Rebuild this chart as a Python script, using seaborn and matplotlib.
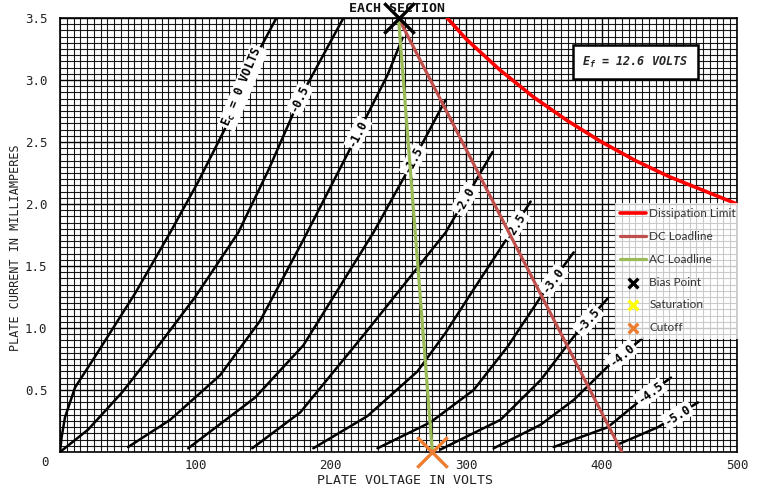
import numpy as np
import matplotlib
matplotlib.use('Agg')
import matplotlib.pyplot as plt
import seaborn as sns
from matplotlib.ticker import MultipleLocator

# plate characteristic curves (plate volts, plate mA)
ec_0_v = [0, 1.2, 3.7, 11.1, 25.9, 55.5, 81.4, 102.1, 124.3, 144.2, 159.8]
ec_0_ma = [0, 0.12, 0.28, 0.52, 0.77, 1.28, 1.77, 2.18, 2.66, 3.18, 3.5]
ec_05_v = [0, 20.7, 45.8, 70.2, 99.8, 131.7, 153.8, 177.5, 209.3]
ec_05_ma = [0, 0.18, 0.48, 0.82, 1.25, 1.77, 2.27, 2.86, 3.5]
ec_10_v = [50.3, 81.4, 118.3, 147.9, 179.7, 214.5, 241.9, 253]
ec_10_ma = [0.04, 0.26, 0.62, 1.06, 1.71, 2.45, 3.04, 3.34]
ec_15_v = [94.7, 144.2, 179.7, 201.9, 231.5, 258.9, 284.8]
ec_15_ma = [0.03, 0.44, 0.86, 1.25, 1.77, 2.31, 2.84]
ec_20_v = [142, 177.5, 227, 284.8, 319.5]
ec_20_ma = [0.03, 0.32, 0.98, 1.77, 2.42]
ec_25_v = [187.1, 227.1, 264, 284.7, 305.4, 330.6, 347.6]
ec_25_ma = [0.03, 0.29, 0.65, 0.96, 1.31, 1.73, 2.02]
ec_30_v = [234.5, 273.7, 305.5, 330.6, 355, 379.4]
ec_30_ma = [0.03, 0.24, 0.5, 0.85, 1.25, 1.61]
ec_35_v = [281, 325.4, 355, 379.4, 404.6]
ec_35_ma = [0.02, 0.26, 0.58, 0.93, 1.24]
ec_40_v = [320.3, 355, 379.4, 404.6, 430.5]
ec_40_ma = [0.03, 0.22, 0.42, 0.69, 0.92]
ec_45_v = [364.6, 404.6, 429, 451.2]
ec_45_ma = [0.04, 0.20, 0.42, 0.60]
ec_50_v = [411.9, 441.6, 471.2]
ec_50_ma = [0.06, 0.20, 0.40]

curve_labels = [r'E$_\mathregular{c}$ = 0 VOLTS', '-0.5', '-1.0', '-1.5', '-2.0',
                '-2.5', '-3.0', '-3.5', '-4.0', '-4.5', '-5.0']
label_at_v = [135, 177, 220, 261, 299, 336, 364, 390, 415, 436, 456]

# overlays
diss_v = [286, 300, 325, 350, 375, 400, 425, 450, 475, 500]
diss_ma = [3.5, 3.33, 3.08, 2.86, 2.67, 2.5, 2.35, 2.22, 2.11, 2.0]
dc_v = [250, 415]
dc_ma = [3.5, 0]
ac_v = [250, 275]
ac_ma = [3.5, 0]
bias = (250, 3.5)
cutoff = (275, 0)

curves = [(ec_0_v, ec_0_ma), (ec_05_v, ec_05_ma), (ec_10_v, ec_10_ma),
          (ec_15_v, ec_15_ma), (ec_20_v, ec_20_ma), (ec_25_v, ec_25_ma),
          (ec_30_v, ec_30_ma), (ec_35_v, ec_35_ma), (ec_40_v, ec_40_ma),
          (ec_45_v, ec_45_ma), (ec_50_v, ec_50_ma)]

sns.set_theme(style='white')
plt.rcParams['font.family'] = ['DejaVu Sans Mono']

fig = plt.figure(figsize=(7.6, 4.9), dpi=100)
ax = fig.add_axes([60 / 760, 1 - 452 / 490, 677 / 760, 434 / 490])
ax.set_xlim(0, 500)
ax.set_ylim(0, 3.5)

# datasheet grid
ax.xaxis.set_major_locator(MultipleLocator(100))
ax.yaxis.set_major_locator(MultipleLocator(0.5))
ax.xaxis.set_minor_locator(MultipleLocator(5))
ax.yaxis.set_minor_locator(MultipleLocator(0.05))
ax.grid(which='minor', color='black', lw=0.8, alpha=0.9)
ax.grid(which='major', color='black', lw=1.0)
ax.set_axisbelow(True)
ax.tick_params(which='both', length=0, labelsize=9, colors='#222222')
ax.tick_params(axis='x', pad=5)
ax.tick_params(axis='y', pad=9)
ax.set_xticks([100, 200, 300, 400, 500])
ax.set_yticks([0.5, 1.0, 1.5, 2.0, 2.5, 3.0, 3.5])
ax.set_yticklabels(['0.5', '1.0', '1.5', '2.0', '2.5', '3.0', '3.5'])
ax.text(-0.022, -0.025, '0', transform=ax.transAxes, ha='center', va='center',
        fontsize=9, color='#222222')
for s in ax.spines.values():
    s.set_color('black')
    s.set_linewidth(1.2)

for (v, ma) in curves:
    sns.lineplot(x=v, y=ma, ax=ax, color='black', lw=1.8, sort=False,
                 estimator=None, zorder=3)

# curve labels sitting on the curves
for (v, ma), txt, lv in zip(curves, curve_labels, label_at_v):
    li = np.interp(lv, v, ma)
    p0 = ax.transData.transform((lv - 4, np.interp(lv - 4, v, ma)))
    p1 = ax.transData.transform((lv + 4, np.interp(lv + 4, v, ma)))
    ang = np.degrees(np.arctan2(p1[1] - p0[1], p1[0] - p0[0]))
    ax.text(lv, li, txt, rotation=ang, rotation_mode='anchor', ha='center',
            va='center', fontsize=8.5, fontweight='bold', color='black',
            bbox=dict(boxstyle='square,pad=0.15', fc='white', ec='none'),
            zorder=4)

sns.lineplot(x=diss_v, y=diss_ma, ax=ax, color='#ff0000', lw=2.6, sort=False,
             estimator=None, label='Dissipation Limit', zorder=5)
sns.lineplot(x=dc_v, y=dc_ma, ax=ax, color='#c0504d', lw=2.3, sort=False,
             estimator=None, label='DC Loadline', zorder=5)
sns.lineplot(x=ac_v, y=ac_ma, ax=ax, color='#9bbb59', lw=2.3, sort=False,
             estimator=None, label='AC Loadline', zorder=5)
ax.scatter([bias[0]], [bias[1]], marker='x', s=480, color='black', lw=2.4,
           label='Bias Point', zorder=6, clip_on=False)
ax.scatter([], [], marker='x', s=480, color='#ffff00', lw=2.4, label='Saturation')
ax.scatter([cutoff[0]], [cutoff[1]], marker='x', s=480, color='#ed7d31', lw=2.4,
           label='Cutoff', zorder=6, clip_on=False)

leg = ax.legend(loc='upper left', bbox_to_anchor=(0.82, 0.574), borderaxespad=0,
                frameon=True, framealpha=0.78, facecolor='white', edgecolor='none',
                fancybox=False, markerscale=0.32, handlelength=2.2,
                labelspacing=1.0, handletextpad=0.25, borderpad=0.45,
                prop={'family': 'Lato', 'size': 8.5})
for t in leg.get_texts():
    t.set_color('#333333')
leg.set_zorder(10)

# filament box
ax.text(425, 3.145, r'E$_\mathregular{f}$ = 12.6 VOLTS', ha='center', va='center',
        fontsize=8.5, style='italic', fontweight='bold',
        bbox=dict(boxstyle='square,pad=0.8', fc='white', ec='black', lw=1.8),
        zorder=7)

fig.text(397 / 760, 1 - 9 / 490, 'EACH SECTION', ha='center', va='center',
         fontsize=9.5, fontweight='bold', color='#111111')
ax.set_xlabel('PLATE VOLTAGE IN VOLTS', fontsize=9.5, color='#222222')
ax.set_ylabel('PLATE CURRENT IN MILLIAMPERES', fontsize=8.5, color='#222222')
ax.xaxis.set_label_coords(0.51, -0.05)
ax.yaxis.set_label_coords(-0.056, 0.47)

fig.savefig('out.png', dpi=100)
